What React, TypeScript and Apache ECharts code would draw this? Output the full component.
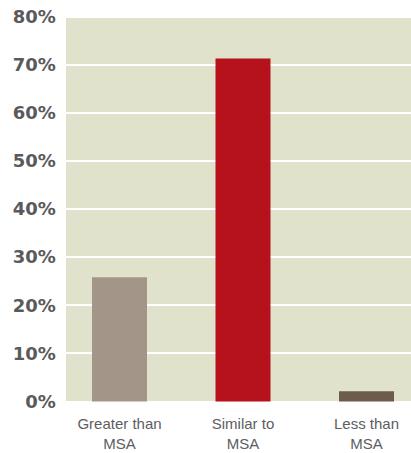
import React, { useEffect, useRef } from "react";
import * as echarts from "echarts";

const categories = ["Greater than\nMSA", "Similar to\nMSA", "Less than\nMSA"];
const values = [25.8, 71.2, 2.1];
const barColors = ["#a39689", "#b5121c", "#6d5c4a"];
const yTicks = [0, 10, 20, 30, 40, 50, 60, 70, 80];

export default function App() {
  const ref = useRef<HTMLDivElement>(null);
  useEffect(() => {
    if (!ref.current) return;
    const chart = echarts.init(ref.current, null, { renderer: "svg" });
    chart.setOption({
      animation: false,
      backgroundColor: "#ffffff",
      graphic: [
        {
          type: "rect",
          z: -10,
          silent: true,
          shape: { x: 66, y: 18, width: 345, height: 384 },
          style: { fill: "#e1e2cb" },
        },
      ],
      grid: {
        left: 57.75,
        top: 16.1,
        width: 370.5,
        height: 385.3,
        containLabel: false,
        outerBoundsMode: "none",
      },
      xAxis: {
        type: "category",
        data: categories,
        axisLine: { show: false },
        axisTick: { show: false },
        axisLabel: {
          interval: 0,
          margin: 12,
          color: "#5d5d5f",
          fontFamily: "'Liberation Sans Narrow', 'Liberation Sans', sans-serif",
          fontSize: 15,
          lineHeight: 20,
          verticalAlign: "top",
        },
      },
      yAxis: {
        type: "value",
        min: yTicks[0],
        max: yTicks[yTicks.length - 1],
        interval: 10,
        axisLine: { show: false },
        axisTick: { show: false },
        splitLine: { show: true, lineStyle: { color: "#ffffff", width: 2 } },
        axisLabel: {
          margin: 2,
          color: "#5a5a5c",
          fontFamily: "'DejaVu Sans', sans-serif",
          fontWeight: "bold",
          fontSize: 18,
          padding: [5, 0, 0, 0],
          formatter: "{value}%",
        },
      },
      series: [
        {
          type: "bar",
          barWidth: 55,
          data: values.map((v, i) => ({ value: v, itemStyle: { color: barColors[i] } })),
        },
      ],
    });
    return () => chart.dispose();
  }, []);
  return <div ref={ref} style={{ width: 411, height: 453, position: "absolute", left: 0, top: 0 }} />;
}
